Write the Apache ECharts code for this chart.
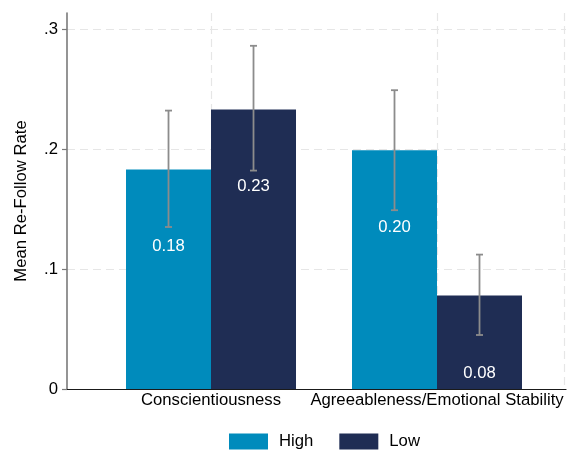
<!DOCTYPE html>
<html>
<head>
<meta charset="utf-8">
<script src="https://cdn.jsdelivr.net/npm/echarts@6/dist/echarts.min.js"></script>
<style>
  html, body { margin: 0; padding: 0; background: #fff; }
  #chart { width: 569px; height: 450px; }
</style>
</head>
<body>
<div id="chart"></div>
<script>
// Group names and their positions on the x scale
const categories = ['Conscientiousness', 'Agreeableness/Emotional Stability'];
const groupPos = [1, 2];

// Mean re-follow rate per group
const highMeans = [0.183, 0.199];
const lowMeans = [0.233, 0.078];

// Confidence interval bounds
const highLower = [0.135, 0.149];
const highUpper = [0.232, 0.249];
const lowLower = [0.182, 0.045];
const lowUpper = [0.286, 0.112];

// Y axis ticks and their labels
const yTicks = [0, 0.1, 0.2, 0.3];
const yTickLabels = ['0', '.1', '.2', '.3'];

const FONT = '"Liberation Sans", Arial, Helvetica, sans-serif';
const FS = 16.7;
const HIGH_COLOR = '#008bbc';
const LOW_COLOR = '#1f2d54';
const BAR_W = 85;

const barData = (means) => groupPos.map((x, i) => [x, means[i]]);
const ciData = (lo, hi) => groupPos.map((x, i) => [x, lo[i], hi[i]]);

function errorBar(offset) {
  return function (params, api) {
    const x = api.value(0);
    const pLo = api.coord([x, api.value(1)]);
    const pHi = api.coord([x, api.value(2)]);
    const cx = pLo[0] + offset;
    const cap = 3.5;
    const style = { stroke: '#8c8c8c', lineWidth: 1.8 };
    return {
      type: 'group',
      children: [
        { type: 'line', shape: { x1: cx, y1: pLo[1], x2: cx, y2: pHi[1] }, style },
        { type: 'line', shape: { x1: cx - cap, y1: pHi[1], x2: cx + cap, y2: pHi[1] }, style },
        { type: 'line', shape: { x1: cx - cap, y1: pLo[1], x2: cx + cap, y2: pLo[1] }, style }
      ]
    };
  };
}

const barLabel = {
  show: true,
  position: 'insideTop',
  distance: 69,
  color: '#fff',
  fontSize: FS,
  fontFamily: FONT,
  formatter: (p) => p.value[1].toFixed(2)
};

const chart = echarts.init(document.getElementById('chart'), null, { renderer: 'canvas' });
chart.setOption({
  animation: false,
  backgroundColor: '#fff',
  textStyle: { fontFamily: FONT },
  grid: { left: 67, right: 3, top: 13, bottom: 61, containLabel: false },
  legend: {
    data: ['High', 'Low'],
    left: 224,
    top: 428,
    itemWidth: 39,
    itemHeight: 16,
    itemGap: 26,
    icon: 'rect',
    textStyle: { fontSize: FS, color: '#000', fontFamily: FONT, padding: [0, 0, 0, 6] }
  },
  xAxis: {
    type: 'value',
    min: 0.3628,
    max: 2.5708,
    axisLine: { show: true, onZero: true, lineStyle: { color: '#1a1a1a', width: 1.2 } },
    axisTick: { show: false, customValues: [1, 2, 2.562] },
    axisLabel: {
      customValues: groupPos,
      margin: 3,
      color: '#000',
      fontSize: FS,
      fontFamily: FONT,
      formatter: (v) => categories[groupPos.indexOf(v)] || ''
    },
    splitLine: { show: true, lineStyle: { color: '#e6e6e6', type: [8, 5], width: 1.2 } }
  },
  yAxis: {
    type: 'value',
    min: 0,
    max: 0.31333,
    name: 'Mean Re-Follow Rate',
    nameLocation: 'middle',
    nameGap: 37,
    nameTextStyle: { color: '#000', fontSize: FS, fontFamily: FONT },
    axisLine: { show: true, lineStyle: { color: '#7a7a7a', width: 1.6 } },
    axisTick: { show: true, length: 5, customValues: yTicks, lineStyle: { color: '#7a7a7a', width: 1.2 } },
    axisLabel: {
      customValues: yTicks,
      margin: 9,
      color: '#000',
      fontSize: FS,
      fontFamily: FONT,
      formatter: (v) => {
        const i = yTicks.findIndex((t) => Math.abs(t - v) < 1e-9);
        return i >= 0 ? yTickLabels[i] : '';
      }
    },
    splitLine: { show: true, lineStyle: { color: '#e6e6e6', type: [8, 5], width: 1.2 } }
  },
  series: [
    {
      name: 'High',
      type: 'bar',
      data: barData(highMeans),
      barWidth: BAR_W,
      barGap: '0%',
      itemStyle: { color: HIGH_COLOR },
      label: barLabel,
      z: 2
    },
    {
      name: 'Low',
      type: 'bar',
      data: barData(lowMeans),
      barWidth: BAR_W,
      barGap: '0%',
      itemStyle: { color: LOW_COLOR },
      label: barLabel,
      z: 2
    },
    {
      name: 'High CI',
      type: 'custom',
      data: ciData(highLower, highUpper),
      renderItem: errorBar(-BAR_W / 2),
      encode: { x: 0, y: [1, 2] },
      z: 5
    },
    {
      name: 'Low CI',
      type: 'custom',
      data: ciData(lowLower, lowUpper),
      renderItem: errorBar(BAR_W / 2),
      encode: { x: 0, y: [1, 2] },
      z: 5
    }
  ]
});
</script>
</body>
</html>
